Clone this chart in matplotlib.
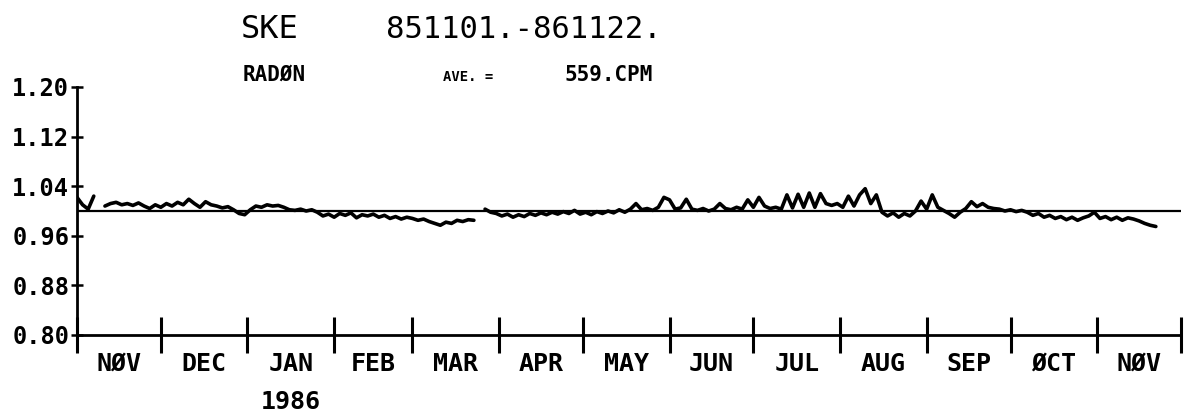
import numpy as np
import matplotlib
matplotlib.use("Agg")
import matplotlib.pyplot as plt
from matplotlib.ticker import FixedLocator, NullFormatter

# station / period header
station = "SKE"
period = "851101.-861122."
species = "RADØN"
average = "559.CPM"

# normalised radon, one reading every 2 days from 1985-11-01 (nan = no data)
step_days = 2
radon = [
    1.022, 1.010, 1.003, 1.024, np.nan, 1.008, 1.012, 1.014, 1.010, 1.012,
    1.009, 1.013, 1.008, 1.004, 1.010, 1.006, 1.012, 1.008, 1.014, 1.010,
    1.019, 1.012, 1.006, 1.015, 1.010, 1.008, 1.005, 1.007, 1.002, 0.996,
    0.994, 1.002, 1.008, 1.006, 1.010, 1.008, 1.009, 1.006, 1.002, 1.001,
    1.003, 1.000, 1.002, 0.998, 0.992, 0.995, 0.990, 0.996, 0.993, 0.997,
    0.989, 0.994, 0.992, 0.995, 0.990, 0.993, 0.988, 0.991, 0.987, 0.990,
    0.988, 0.985, 0.987, 0.983, 0.980, 0.977, 0.982, 0.980, 0.985, 0.983,
    0.986, 0.985, np.nan, 1.003, 0.998, 0.996, 0.992, 0.995, 0.990, 0.994,
    0.991, 0.996, 0.993, 0.997, 0.994, 0.998, 0.995, 0.999, 0.996, 1.001,
    0.995, 0.998, 0.994, 0.999, 0.996, 1.000, 0.997, 1.002, 0.998, 1.003,
    1.012, 1.002, 1.004, 1.001, 1.006, 1.022, 1.018, 1.003, 1.005, 1.019,
    1.003, 1.001, 1.004, 1.000, 1.003, 1.012, 1.004, 1.002, 1.006, 1.003,
    1.018, 1.006, 1.022, 1.008, 1.004, 1.006, 1.003, 1.026, 1.005, 1.027,
    1.006, 1.029, 1.006, 1.028, 1.012, 1.009, 1.012, 1.006, 1.024, 1.008,
    1.026, 1.036, 1.012, 1.026, 0.998, 0.992, 0.997, 0.990, 0.996, 0.992,
    1.000, 1.016, 1.003, 1.026, 1.006, 1.001, 0.996, 0.990, 0.998, 1.004,
    1.015, 1.007, 1.012, 1.006, 1.004, 1.003, 1.000, 1.002, 0.999, 1.001,
    0.998, 0.993, 0.996, 0.990, 0.993, 0.988, 0.991, 0.986, 0.990, 0.985,
    0.989, 0.992, 0.998, 0.988, 0.991, 0.986, 0.990, 0.985, 0.989, 0.987,
    0.984, 0.980, 0.977, 0.975,
]

months = ["NØV", "DEC", "JAN", "FEB", "MAR", "APR", "MAY",
          "JUN", "JUL", "AUG", "SEP", "ØCT", "NØV"]
yticks = [0.80, 0.88, 0.96, 1.04, 1.12, 1.20]

start = np.datetime64("1985-11-01")
bounds = np.arange(np.datetime64("1985-11"), np.datetime64("1987-01"),
                   dtype="datetime64[M]")[:len(months) + 1]
bounds = (bounds.astype("datetime64[D]") - start).astype(float)
mids = (bounds[:-1] + bounds[1:]) / 2
days = np.arange(len(radon)) * step_days

W, H = 1188, 416
fig = plt.figure(figsize=(W / 100, H / 100), dpi=100)
ax = fig.add_axes([77 / W, 1 - 335 / H, (1181 - 77) / W, (335 - 87) / H])

mono = dict(family="DejaVu Sans Mono", weight="bold")

ax.plot(days, radon, color="black", lw=2.6, solid_joinstyle="round",
        solid_capstyle="round")
ax.axhline(1.0, color="black", lw=1.6)

ax.set_xlim(bounds[0], bounds[-1])
ax.set_ylim(0.80, 1.20)
for s in ["top", "right"]:
    ax.spines[s].set_visible(False)
for s in ["left", "bottom"]:
    ax.spines[s].set_linewidth(2.0)

ax.set_yticks(yticks)
ax.set_yticklabels([f"{v:.2f}" for v in yticks], fontsize=17, **mono)
ax.tick_params(axis="y", direction="inout", length=9, width=1.8, pad=1)

ax.xaxis.set_major_locator(FixedLocator(bounds))
ax.xaxis.set_major_formatter(NullFormatter())
ax.xaxis.set_minor_locator(FixedLocator(mids))
ax.set_xticks(mids, minor=True)
ax.set_xticklabels(months, minor=True, fontsize=18, **mono)
ax.tick_params(axis="x", which="major", direction="inout", length=26, width=2.2)
ax.tick_params(axis="x", which="minor", length=0, pad=12)

jan = mids[2]
ax.text(jan, -0.27, "1986", transform=ax.get_xaxis_transform(),
        ha="center", va="center", fontsize=18, **mono)

fig.text(241 / W, 1 - 30 / H, station, fontsize=23, ha="left", va="center",
         family="DejaVu Sans Mono")
fig.text(386 / W, 1 - 30 / H, period, fontsize=22, ha="left", va="center",
         family="DejaVu Sans Mono")
fig.text(243 / W, 1 - 75 / H, species, fontsize=15, ha="left", va="center", **mono)
fig.text(443 / W, 1 - 77 / H, "AVE. =", fontsize=10, ha="left", va="center", **mono)
fig.text(564 / W, 1 - 75 / H, average, fontsize=15, ha="left", va="center", **mono)

fig.savefig("out.png", dpi=100)
